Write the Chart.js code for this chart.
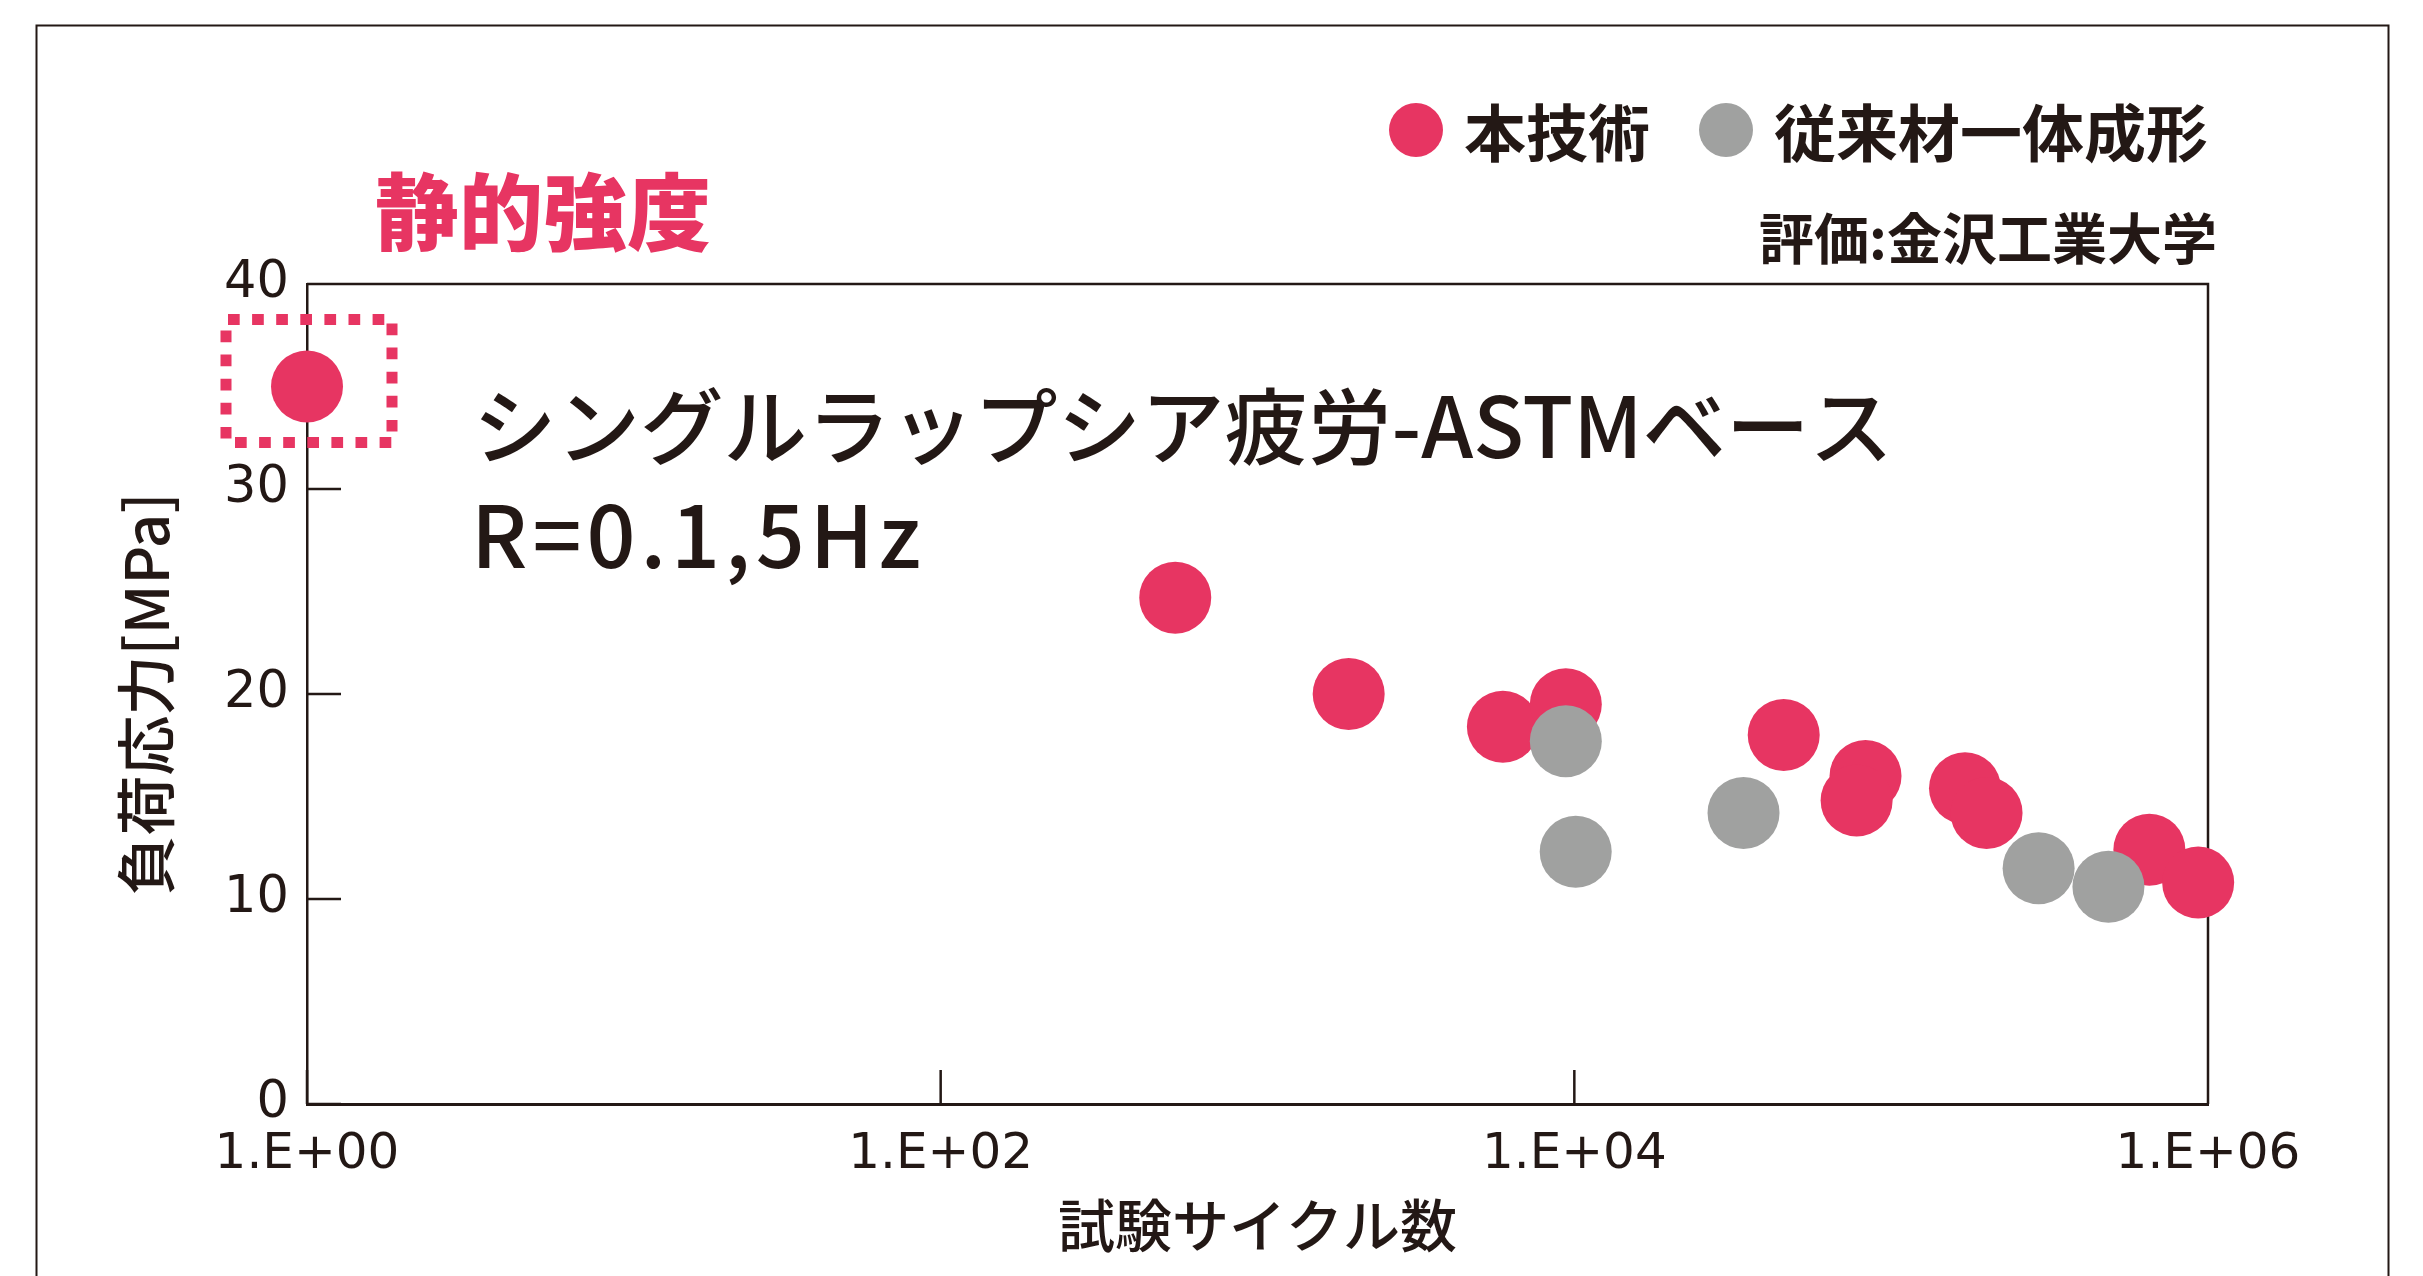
<!DOCTYPE html>
<html lang="ja">
<head>
<meta charset="UTF-8">
<title>シングルラップシア疲労-ASTMベース</title>
<script src="https://cdn.jsdelivr.net/npm/chart.js@4.4.0/dist/chart.umd.min.js"></script>
<style>
    html, body { margin: 0; padding: 0; background: #ffffff; }
    #grafico { display: block; }
</style>
</head>
<body>
<canvas id="grafico" width="2423" height="1276"></canvas>
<script>
const redCycles = [1, 550, 1940, 5950, 9400, 45800, 83000, 77800, 171000, 200000, 653000, 931000];
const redStress = [35.0, 24.7, 20.0, 18.4, 19.5, 18.0, 16.0, 14.8, 15.4, 14.2, 12.4, 10.8];
const greyCycles = [9400, 10100, 34200, 292000, 485000];
const greyStress = [17.7, 12.3, 14.2, 11.5, 10.6];

const xTickValues = [1, 100, 10000, 1000000];
const xTickLabels = ['1.E+00', '1.E+02', '1.E+04', '1.E+06'];
const yTickValues = [0, 10, 20, 30, 40];

const seriesNames = ['本技術', '従来材一体成形'];
const seriesColors = ['#e73562', '#a0a1a0'];

const TEXT = '#231815';
const CJK = '"Noto Sans CJK JP", "Noto Sans CJK SC", sans-serif';

document.addEventListener("DOMContentLoaded", function() {

    function toPoints(xs, ys) {
        return xs.map((x, i) => ({ x: x, y: ys[i] }));
    }

    // eixos, marcas internas, textos e legenda desenhados à mão
    const decoracao = {
        id: 'decoracao',
        beforeDatasetsDraw(chart) {
            const ctx = chart.ctx;
            const a = chart.chartArea;
            const sx = chart.scales.x;
            const sy = chart.scales.y;
            ctx.save();
            ctx.strokeStyle = TEXT;
            ctx.lineWidth = 2.5;
            ctx.beginPath();
            ctx.moveTo(a.left, a.top);
            ctx.lineTo(a.right, a.top);
            ctx.lineTo(a.right, a.bottom);
            yTickValues.forEach(v => {
                const py = sy.getPixelForValue(v);
                ctx.moveTo(a.left, py);
                ctx.lineTo(a.left + 34, py);
            });
            xTickValues.forEach(v => {
                const px = sx.getPixelForValue(v);
                ctx.moveTo(px, a.bottom);
                ctx.lineTo(px, a.bottom - 34);
            });
            ctx.stroke();
            ctx.restore();
        },
        afterDraw(chart) {
            const ctx = chart.ctx;
            ctx.save();

            // moldura externa
            ctx.strokeStyle = TEXT;
            ctx.lineWidth = 2;
            ctx.strokeRect(36.5, 25.5, 2352, 1300);

            // caixa pontilhada em volta da resistência estática
            const p = chart.getDatasetMeta(0).data[0];
            ctx.strokeStyle = seriesColors[0];
            ctx.lineWidth = 11;
            ctx.setLineDash([11.7, 12.4]);
            ctx.beginPath();
            ctx.moveTo(p.x - 79, p.y - 67); ctx.lineTo(p.x + 79, p.y - 67);
            ctx.moveTo(p.x + 85, p.y - 63); ctx.lineTo(p.x + 85, p.y + 47);
            ctx.moveTo(p.x - 72, p.y + 56); ctx.lineTo(p.x + 86, p.y + 56);
            ctx.moveTo(p.x - 81, p.y - 56); ctx.lineTo(p.x - 81, p.y + 52);
            ctx.stroke();
            ctx.setLineDash([]);

            ctx.textBaseline = 'middle';
            ctx.textAlign = 'left';

            ctx.fillStyle = seriesColors[0];
            ctx.font = '900 84px ' + CJK;
            ctx.fillText('静的強度', 375, 212);

            // legenda
            const legendDotX = [1416, 1726];
            legendDotX.forEach((lx, i) => {
                ctx.fillStyle = seriesColors[i];
                ctx.beginPath();
                ctx.arc(lx, 130, 27, 0, Math.PI * 2);
                ctx.fill();
                ctx.fillStyle = TEXT;
                ctx.font = 'bold 62px ' + CJK;
                ctx.fillText(seriesNames[i], lx + 48, 133);
            });

            ctx.textAlign = 'right';
            ctx.font = 'bold 55px ' + CJK;
            ctx.fillText('評価:金沢工業大学', 2217, 238);

            ctx.textAlign = 'left';
            ctx.font = '500 83.5px ' + CJK;
            ctx.fillText('シングルラップシア疲労-ASTMベース', 473, 426);

            ctx.textBaseline = 'alphabetic';
            ctx.font = '500 86px ' + CJK;
            ctx.letterSpacing = '5px';
            ctx.fillText('R=0.1,5Hz', 471, 568);

            ctx.restore();
        }
    };

    const ctx = document.getElementById('grafico').getContext('2d');
    new Chart(ctx, {
        type: 'scatter',
        data: {
            datasets: [{
                label: seriesNames[0],
                data: toPoints(redCycles, redStress),
                backgroundColor: seriesColors[0],
                borderWidth: 0,
                pointRadius: 36,
                pointHoverRadius: 36,
                clip: false,
                order: 1
            }, {
                label: seriesNames[1],
                data: toPoints(greyCycles, greyStress),
                backgroundColor: seriesColors[1],
                borderWidth: 0,
                pointRadius: 36,
                pointHoverRadius: 36,
                clip: false,
                order: 0
            }]
        },
        options: {
            responsive: false,
            animation: false,
            devicePixelRatio: 1,
            events: [],
            layout: { padding: { top: 284, right: 215, left: 0, bottom: 0 } },
            plugins: {
                legend: { display: false },
                title: { display: false },
                tooltip: { enabled: false }
            },
            scales: {
                x: {
                    type: 'logarithmic',
                    position: 'bottom',
                    min: 1,
                    max: 1000000,
                    grid: { display: false, drawTicks: false },
                    border: { display: true, color: TEXT, width: 3 },
                    afterBuildTicks: (scale) => {
                        scale.ticks = xTickValues.map(v => ({ value: v }));
                    },
                    afterFit: (scale) => {
                        scale.height = 172;
                        scale.paddingLeft = 0;
                        scale.paddingRight = 0;
                    },
                    ticks: {
                        autoSkip: false,
                        maxRotation: 0,
                        padding: 21,
                        color: TEXT,
                        font: { family: 'DejaVu Sans', size: 50 },
                        callback: (value, index) => xTickLabels[index]
                    },
                    title: {
                        display: true,
                        text: '試験サイクル数',
                        color: TEXT,
                        font: { family: CJK, size: 57, weight: '500' },
                        padding: { top: 0, bottom: 16 }
                    }
                },
                y: {
                    min: 0,
                    max: 40,
                    grid: { display: false, drawTicks: false },
                    border: { display: true, color: TEXT, width: 2.5 },
                    afterFit: (scale) => {
                        scale.width = 307;
                        scale.paddingTop = 0;
                        scale.paddingBottom = 0;
                    },
                    ticks: {
                        stepSize: 10,
                        padding: 18,
                        color: TEXT,
                        font: { family: 'DejaVu Sans', size: 51 }
                    },
                    title: {
                        display: true,
                        text: '負荷応力[MPa]',
                        color: TEXT,
                        font: { family: CJK, size: 60, weight: '500' },
                        padding: { top: 110, bottom: 0 }
                    }
                }
            }
        },
        plugins: [decoracao]
    });
});
</script>
</body>
</html>
